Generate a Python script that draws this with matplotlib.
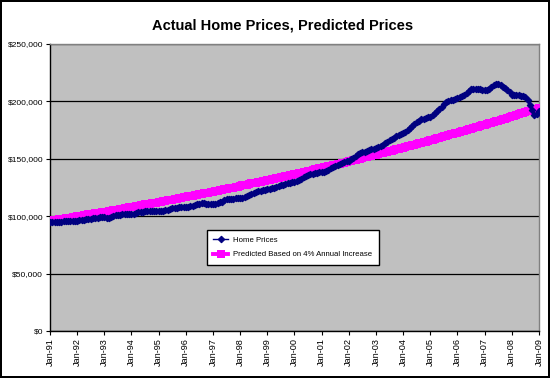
import numpy as np
import matplotlib
matplotlib.use("Agg")
import matplotlib.pyplot as plt
from matplotlib.ticker import FuncFormatter

plt.rcParams['font.family'] = ['Liberation Sans', 'DejaVu Sans']

# monthly values, Jan-91 .. Jan-09 (one row per year)
home_prices = [
    94700, 94800, 94900, 95000, 95200, 95300, 95400, 95500, 95600, 95700, 95800, 95900,
    96100, 96300, 96600, 96900, 97300, 97500, 97800, 98100, 98400, 98700, 99000, 99100,
    99000, 98400, 98300, 99200, 100300, 101000, 101300, 101400, 101500, 101600, 101700, 101800,
    101900, 102300, 103000, 103600, 103900, 104100, 104300, 104400, 104500, 104600, 104700, 104800,
    104500, 104300, 104700, 105200, 105800, 106400, 106900, 107200, 107500, 107700, 107800, 108000,
    108000, 108300, 108600, 108900, 109500, 110200, 110900, 111200, 111100, 110900, 110600, 110400,
    110300, 110500, 111200, 112000, 112700, 113800, 114700, 115000, 115200, 115400, 115500, 115600,
    115600, 115800, 116300, 117400, 118600, 119600, 120500, 121100, 121600, 122100, 122600, 123000,
    123300, 123800, 124300, 124900, 125500, 126200, 126900, 127500, 128200, 128700, 129200, 129700,
    130000, 130700, 131600, 132700, 133900, 135100, 136000, 136600, 137000, 137400, 137800, 138100,
    138200, 138600, 139400, 140500, 141700, 142800, 143700, 144500, 145400, 146300, 147200, 148000,
    148300, 149500, 151000, 152500, 153800, 154800, 155600, 156300, 157000, 157700, 158300, 158900,
    159500, 160200, 161000, 162100, 163400, 164800, 166200, 167400, 168400, 169600, 170900, 172000,
    172300, 173500, 175000, 176500, 178300, 180300, 182000, 183300, 184300, 185100, 185800, 186500,
    186700, 188000, 189500, 191300, 193200, 195300, 197500, 199200, 200300, 201000, 201600, 202200,
    202800, 203500, 204500, 206000, 207700, 209300, 210400, 210700, 210800, 210700, 210500, 210200,
    209800, 210000, 211200, 212800, 214400, 215200, 214900, 214000, 212800, 211300, 209600, 207900,
    206000, 205800, 205600, 205400, 205100, 204700, 203700, 200800, 197300, 192600, 188300, 189200,
    192000,
]

predicted = [
    96000, 96300, 96600, 96900, 97300, 97600, 97900, 98200, 98500, 98800, 99200, 99500,
    99800, 100100, 100500, 100800, 101100, 101500, 101800, 102100, 102400, 102800, 103100, 103400,
    103800, 104100, 104500, 104800, 105200, 105500, 105800, 106200, 106500, 106900, 107200, 107600,
    108000, 108400, 108700, 109100, 109400, 109800, 110200, 110500, 110900, 111200, 111600, 111900,
    112300, 112700, 113100, 113400, 113800, 114200, 114500, 114900, 115300, 115700, 116000, 116400,
    116800, 117200, 117600, 117900, 118300, 118700, 119100, 119500, 119900, 120200, 120600, 121000,
    121400, 121800, 122200, 122600, 123000, 123400, 123800, 124200, 124600, 125000, 125400, 125800,
    126400, 126800, 127200, 127600, 128000, 128500, 128900, 129300, 129700, 130100, 130500, 131000,
    131400, 131800, 132300, 132700, 133100, 133500, 134000, 134400, 134900, 135300, 135700, 136200,
    136600, 137100, 137500, 138000, 138400, 138900, 139300, 139800, 140200, 140700, 141100, 141600,
    142100, 142500, 143000, 143500, 143900, 144400, 144900, 145300, 145800, 146300, 146700, 147200,
    147800, 148300, 148800, 149300, 149700, 150200, 150700, 151200, 151700, 152200, 152700, 153200,
    153700, 154200, 154700, 155200, 155700, 156200, 156700, 157200, 157700, 158200, 158700, 159200,
    159800, 160300, 160900, 161400, 161900, 162400, 162900, 163500, 164000, 164500, 165000, 165600,
    166300, 166800, 167400, 167900, 168400, 169000, 169500, 170100, 170600, 171200, 171700, 172300,
    172900, 173500, 174000, 174600, 175100, 175700, 176300, 176800, 177400, 178000, 178500, 179100,
    179800, 180400, 180900, 181500, 182100, 182700, 183300, 183900, 184500, 185000, 185600, 186200,
    187000, 187600, 188200, 188900, 189500, 190100, 190700, 191300, 191900, 192500, 193100, 193800,
    194500,
]

year_labels = ['Jan-91', 'Jan-92', 'Jan-93', 'Jan-94', 'Jan-95', 'Jan-96', 'Jan-97',
               'Jan-98', 'Jan-99', 'Jan-00', 'Jan-01', 'Jan-02', 'Jan-03', 'Jan-04',
               'Jan-05', 'Jan-06', 'Jan-07', 'Jan-08', 'Jan-09']

months = np.arange(len(home_prices))

fig = plt.figure(figsize=(5.5, 3.78), dpi=100)
fig.patch.set_facecolor('white')
fig.patch.set_edgecolor('black')
fig.patch.set_linewidth(1.5)

ax = fig.add_axes([0.0909, 0.1243, 0.8891, 0.7593])
ax.set_facecolor('#C0C0C0')

ax.plot(months, predicted, color='#FF00FF', lw=2.8, marker='s', markersize=5.2,
        markeredgewidth=0, label='Predicted Based on 4% Annual Increase', zorder=3)
ax.plot(months, home_prices, color='#000080', lw=1, marker='D', markersize=3.3,
        markeredgewidth=0.8, label='Home Prices', zorder=4)

ax.set_xlim(0, len(home_prices) - 1)
ax.set_ylim(0, 250000)
ax.set_yticks(np.arange(0, 250001, 50000))
ax.yaxis.set_major_formatter(FuncFormatter(lambda v, p: '${:,.0f}'.format(v)))
ax.set_xticks(np.arange(0, len(home_prices), 12))
ax.set_xticklabels(year_labels, rotation=90, fontsize=6.6)
ax.tick_params(axis='y', labelsize=6, length=3, width=0.8, pad=2)
ax.tick_params(axis='x', length=3, width=0.8, pad=2)

ax.grid(axis='y', color='black', lw=0.9)
ax.set_axisbelow(True)
for side in ['left', 'bottom']:
    ax.spines[side].set_color('black')
    ax.spines[side].set_linewidth(1)
for side in ['top', 'right']:
    ax.spines[side].set_color('#808080')
    ax.spines[side].set_linewidth(1)

handles, labels = ax.get_legend_handles_labels()
leg = ax.legend(handles[::-1], labels[::-1], loc='upper left', bbox_to_anchor=(0.321, 0.352),
                fontsize=5.6, frameon=True, fancybox=False, edgecolor='black',
                framealpha=1, handlelength=1.9, labelspacing=0.95, borderpad=0.8,
                handletextpad=0.7, borderaxespad=0)
leg.get_frame().set_linewidth(1)

fig.text(0.513, 0.933, 'Actual Home Prices, Predicted Prices', ha='center', va='center',
         fontsize=10.5, fontweight='bold')

fig.savefig('out.png', dpi=100)
